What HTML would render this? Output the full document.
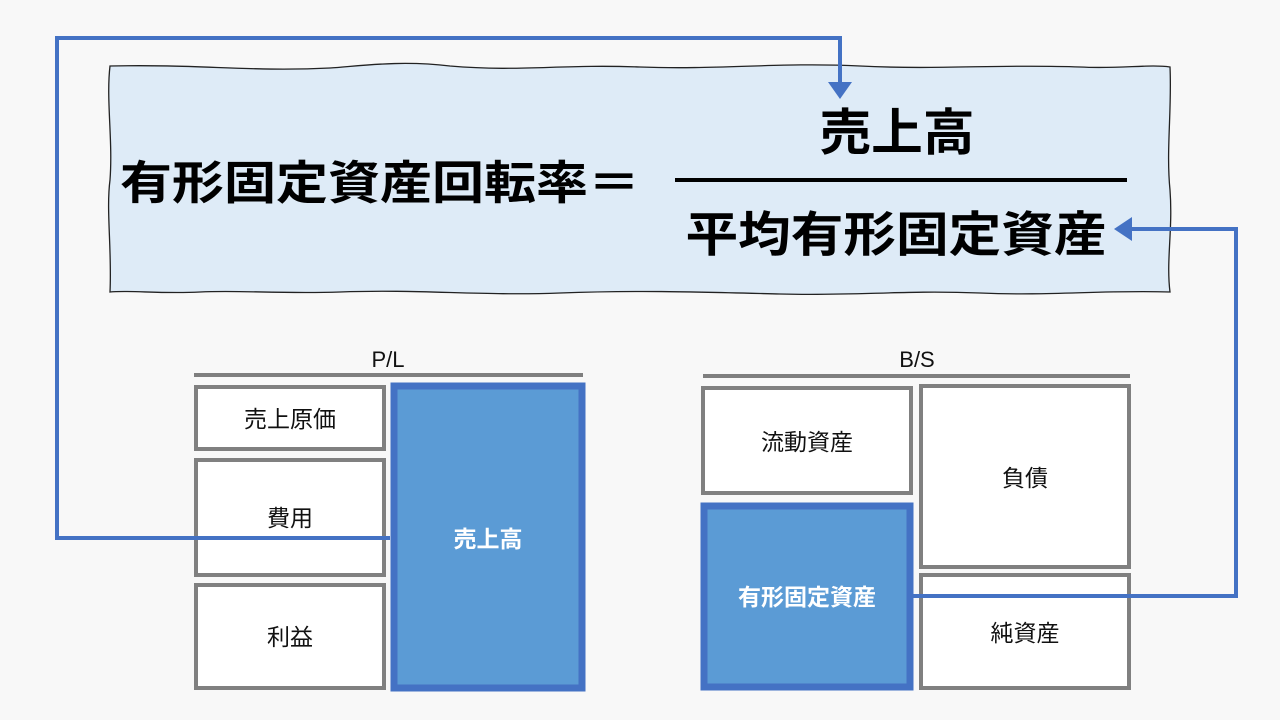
<!DOCTYPE html>
<html><head><meta charset="utf-8"><style>
html,body{margin:0;padding:0;background:#f8f8f8;}
svg{display:block;}
text{font-family:"Liberation Sans","Noto Sans CJK JP",sans-serif;}
</style></head><body>
<svg width="1280" height="720" viewBox="0 0 1280 720" xmlns="http://www.w3.org/2000/svg">
<rect width="1280" height="720" fill="#f8f8f8"/>
<path d="M110,66 C200,64 250,72 330,68 C360,66 400,60 450,66 C520,72 560,64 640,67 C720,70 780,62 860,66 C940,70 1000,64 1080,67 C1120,69 1150,64 1170,67 C1172,110 1166,150 1170,190 C1173,230 1166,260 1170,292 C1100,290 1050,296 980,293 C900,290 860,296 780,294 C700,292 640,290 560,293 C480,296 420,289 340,292 C280,294 240,290 200,292 C160,294 130,290 110,292 C112,250 106,210 110,180 C113,140 106,100 110,66 Z" fill="#deebf7" stroke="#222" stroke-width="1.3"/>
<text x="120" y="199" font-size="46" font-weight="bold" fill="#000" textLength="520" lengthAdjust="spacingAndGlyphs">有形固定資産回転率＝</text>
<text x="897" y="150" font-size="50" font-weight="bold" fill="#000" text-anchor="middle" textLength="155" lengthAdjust="spacingAndGlyphs">売上高</text>
<rect x="675" y="178" width="452" height="4" fill="#000"/>
<text x="896" y="251" font-size="48" font-weight="bold" fill="#000" text-anchor="middle" textLength="421" lengthAdjust="spacingAndGlyphs">平均有形固定資産</text>

<text x="388" y="367" font-size="22" fill="#111" text-anchor="middle">P/L</text>
<rect x="194" y="373" width="389" height="4" fill="#7f7f7f"/>
<rect x="196" y="387" width="188" height="62" fill="#fff" stroke="#808080" stroke-width="4"/>
<text x="290" y="427" font-size="23" fill="#111" text-anchor="middle">売上原価</text>
<rect x="196" y="460" width="188" height="115" fill="#fff" stroke="#808080" stroke-width="4"/>
<text x="290" y="526" font-size="23" fill="#111" text-anchor="middle">費用</text>
<rect x="196" y="585" width="188" height="103" fill="#fff" stroke="#808080" stroke-width="4"/>
<text x="290" y="645" font-size="23" fill="#111" text-anchor="middle">利益</text>
<rect x="394" y="386" width="188" height="302" fill="#5b9bd5" stroke="#4472c4" stroke-width="7"/>
<text x="488" y="547" font-size="23" font-weight="bold" fill="#fff" text-anchor="middle">売上高</text>

<text x="917" y="367" font-size="22" fill="#111" text-anchor="middle">B/S</text>
<rect x="703" y="374" width="427" height="4" fill="#7f7f7f"/>
<rect x="703" y="388" width="208" height="105" fill="#fff" stroke="#808080" stroke-width="4"/>
<text x="807" y="450" font-size="23" fill="#111" text-anchor="middle">流動資産</text>
<rect x="921" y="386" width="208" height="181" fill="#fff" stroke="#808080" stroke-width="4"/>
<text x="1025" y="486" font-size="23" fill="#111" text-anchor="middle">負債</text>
<rect x="921" y="575" width="208" height="113" fill="#fff" stroke="#808080" stroke-width="4"/>
<text x="1025" y="641" font-size="23" fill="#111" text-anchor="middle">純資産</text>
<rect x="704" y="506" width="206" height="181" fill="#5b9bd5" stroke="#4472c4" stroke-width="7"/>
<text x="807" y="605" font-size="23" font-weight="bold" fill="#fff" text-anchor="middle">有形固定資産</text>

<polyline points="390,538 57,538 57,38 840,38 840,84" fill="none" stroke="#4472c4" stroke-width="4"/>
<polygon points="828,82 852,82 840,99" fill="#4472c4"/>
<polyline points="913,596 1236,596 1236,229 1130,229" fill="none" stroke="#4472c4" stroke-width="4"/>
<polygon points="1132,217 1132,241 1114,229" fill="#4472c4"/>
</svg>
</body></html>
